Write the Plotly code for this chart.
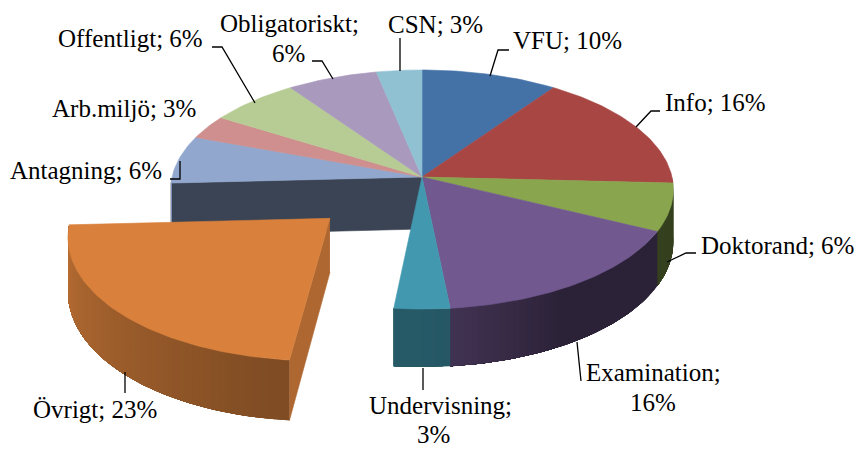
import numpy as np
import plotly.graph_objects as go

# ---- data ----
categories = ["VFU", "Info", "Doktorand", "Examination", "Undervisning", "Övrigt",
              "Antagning", "Arb.miljö", "Offentligt", "Obligatoriskt", "CSN"]
counts = [3, 5, 2, 5, 1, 7, 2, 1, 2, 2, 1]

# ---- styles ----
top_colors = {
    "VFU": (68, 114, 167), "Info": (168, 70, 68), "Doktorand": (137, 165, 78),
    "Examination": (113, 88, 143), "Undervisning": (65, 152, 175), "Övrigt": (217, 129, 60),
    "Antagning": (145, 167, 206), "Arb.miljö": (206, 143, 142), "Offentligt": (183, 204, 148),
    "Obligatoriskt": (169, 154, 189), "CSN": (143, 193, 211),
}
exploded = "Övrigt"
EXPLODE = 0.49
CX, CY, RX, RY, K, DEPTH = 422, 177, 250, 118.2, 0.1046, 52
SHADE_A = [90, 150, 172, 180, 190, 270]
SHADE_F = [0.39, 0.39, 0.56, 0.59, 0.59, 0.87]
FONT = dict(family="Liberation Serif, Times New Roman, serif", size=25, color="#000000")

# label layout: category -> list of (centre x, centre y), one per text line
label_lines = {
    "VFU": [(567, 40)], "Info": [(715, 102)], "Doktorand": [(777, 245)],
    "Examination": [(653, 372), (653, 402)], "Undervisning": [(440, 405), (433, 434)],
    "Övrigt": [(95, 409)], "Antagning": [(86, 170)], "Arb.miljö": [(124, 108)],
    "Offentligt": [(130, 38)], "Obligatoriskt": [(289, 23), (288, 53)], "CSN": [(435, 24)],
}
leaders = {
    "VFU": ([509, 498, 490], [50, 50, 76]),
    "Info": ([660, 651, 636], [111, 111, 127]),
    "Doktorand": ([696, 686, 667], [253, 253, 262]),
    "Examination": ([581, 577], [381, 342]),
    "Undervisning": ([423, 423], [368, 390]),
    "Övrigt": ([125, 125], [372, 393]),
    "Antagning": ([170, 180, 180], [179, 179, 161]),
    "Obligatoriskt": ([312, 322, 333], [61, 61, 79]),
    "Offentligt": ([212, 222, 255], [47, 47, 103]),
    "CSN": ([400, 400], [38, 71]),
}


def project(a_deg, r=1.0, ox=0.0, oy=0.0, h=0.0):
    a = np.radians(a_deg)
    X = r * np.sin(a) + ox
    Y = r * np.cos(a) + oy
    s = 1 / (1 + K * Y)
    return CX + RX * X * s, CY - RY * Y * s + h * DEPTH * s


def css(c, f=1.0):
    return "rgb(%d,%d,%d)" % tuple(int(round(v * f)) for v in c)


fig = go.Figure()


def poly(xs, ys, color, lw=0.6):
    fig.add_trace(go.Scatter(x=list(xs), y=list(ys), mode="lines", fill="toself", fillcolor=color,
                             line=dict(color=color, width=lw), hoverinfo="skip", showlegend=False))


def arc_wall(a0, a1, base, ox=0.0, oy=0.0):
    lo, hi = max(a0, 90), min(a1, 270)
    if hi <= lo:
        return
    edges = np.linspace(lo, hi, int((hi - lo) / 1.5) + 2)
    # painter's order: each band runs to the far end of the wall, so no seams appear
    for i, p in enumerate(edges[:-1]):
        seg = np.linspace(p, hi, max(int(hi - p), 1) + 1)
        xt, yt = project(seg, 1, ox, oy, 0)
        xb, yb = project(seg[::-1], 1, ox, oy, 1)
        f = np.interp((p + edges[i + 1]) / 2, SHADE_A, SHADE_F)
        poly(np.r_[xt, xb], np.r_[yt, yb], css(base, f), lw=0)


def top(a0, a1, base, ox=0.0, oy=0.0):
    seg = np.linspace(a0, a1, max(int(a1 - a0), 2) + 1)
    xs, ys = project(seg, 1, ox, oy)
    x0, y0 = project(0.0, 0, ox, oy)
    poly(np.r_[x0, xs, x0], np.r_[y0, ys, y0], css(base))


total = sum(counts)
ends = np.cumsum(counts) / total * 360
starts = np.r_[0, ends[:-1]]
slices = list(zip(categories, starts, ends))

# main pie: radial wall next to the exploded gap, outer walls, then tops
for name, a0, a1 in slices:
    if name == "Antagning":
        x0, y0 = project(a0, 0)
        xe, ye = project(a0, 1)
        x1, y1 = project(a0, 0, h=1)
        x2, y2 = project(a0, 1, h=1)
        poly([x0, xe, x2, x1], [y0, ye, y2, y1], css(top_colors[name], 0.41))
for name, a0, a1 in slices:
    if name != exploded:
        arc_wall(a0, a1, top_colors[name])
for name, a0, a1 in slices:
    if name != exploded:
        top(a0, a1, top_colors[name])

# exploded slice
for name, a0, a1 in slices:
    if name == exploded:
        mid = np.radians((a0 + a1) / 2)
        ox, oy = EXPLODE * np.sin(mid), EXPLODE * np.cos(mid)
        base = top_colors[name]
        x0, y0 = project(a0, 0, ox, oy)
        xe, ye = project(a0, 1, ox, oy)
        x1, y1 = project(a0, 0, ox, oy, 1)
        x2, y2 = project(a0, 1, ox, oy, 1)
        poly([x0, xe, x2, x1], [y0, ye, y2, y1], css(base, 0.8))
        arc_wall(a0, a1, base, ox, oy)
        top(a0, a1, base, ox, oy)

# leaders
for name, (lx, ly) in leaders.items():
    fig.add_trace(go.Scatter(x=lx, y=ly, mode="lines", line=dict(color="#000000", width=1.3),
                             hoverinfo="skip", showlegend=False))

# labels
annotations = []
for name, n in zip(categories, counts):
    pct = f"{round(n / total * 100)}%"
    pos = label_lines[name]
    lines = [f"{name}; {pct}"] if len(pos) == 1 else [f"{name};", pct]
    for text, (tx, ty) in zip(lines, pos):
        annotations.append(dict(x=tx, y=ty, text=text, showarrow=False, xanchor="center",
                                yanchor="middle", font=FONT))

fig.update_layout(
    width=859, height=450, margin=dict(l=0, r=0, t=0, b=0),
    paper_bgcolor="#ffffff", plot_bgcolor="#ffffff", showlegend=False,
    xaxis=dict(range=[0, 859], visible=False, fixedrange=True),
    yaxis=dict(range=[450, 0], visible=False, fixedrange=True),
    annotations=annotations,
)
fig.write_html("out.html", config=dict(displayModeBar=False),
               post_script="document.body.style.margin='0';document.body.style.overflow='hidden';")
